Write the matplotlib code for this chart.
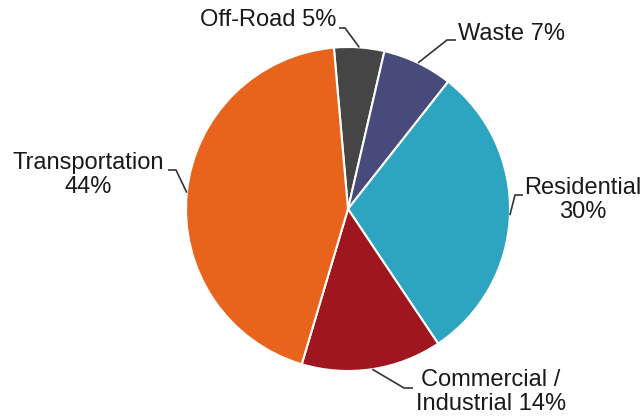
import numpy as np
import matplotlib.pyplot as plt

plt.rcParams['font.family'] = ['Liberation Sans', 'DejaVu Sans']

# data
sectors = ["Off-Road", "Waste", "Residential", "Commercial /\nIndustrial", "Transportation"]
shares = [5, 7, 30, 14, 44]
colors = ["#454545", "#474a7a", "#2da4c0", "#a0161f", "#e8641d"]

W, H = 644, 417
fig = plt.figure(figsize=(W / 100, H / 100), dpi=100)
ax = fig.add_axes([0, 0, 1, 1])

cx, cy, r = 348, H - 209, 162
start = 95
wedges, _ = ax.pie(shares, colors=colors, startangle=start, counterclock=False,
                   center=(cx, cy), radius=r, frame=True,
                   wedgeprops=dict(edgecolor="white", linewidth=1.5))
ax.set_xlim(0, W)
ax.set_ylim(0, H)
ax.set_aspect("equal")
ax.axis("off")

# label layout: (text x, text y, ha, elbow x, elbow y, line end x) in pixel coords
layout = [
    (336, 20, "right", 345, 28, 339),
    (458, 34, "left", 447, 40, 456),
    (583, 200, "center", 515, 195, 523),
    (491, 392, "center", 404, 388, 413),
    (88, 175, "center", 176, 170, 168),
]

for i, (w, s, lab) in enumerate(zip(wedges, shares, sectors)):
    mid = np.deg2rad((w.theta1 + w.theta2) / 2)
    ax_, ay_ = cx + r * np.cos(mid), cy + r * np.sin(mid)
    tx, ty, ha, ex, ey, lx = layout[i]
    ax.plot([ax_, ex, lx], [ay_, H - ey, H - ey], color="#333333", lw=1.2,
            solid_capstyle="butt")
    if lab in ("Residential", "Transportation"):
        text = f"{lab}\n{s}%"
    else:
        text = f"{lab} {s}%"
    ax.text(tx, H - ty, text, ha=ha, va="center", multialignment="center",
            fontsize=17, color="#1a1a1a", linespacing=1.1)

fig.savefig("out.png", dpi=100)
